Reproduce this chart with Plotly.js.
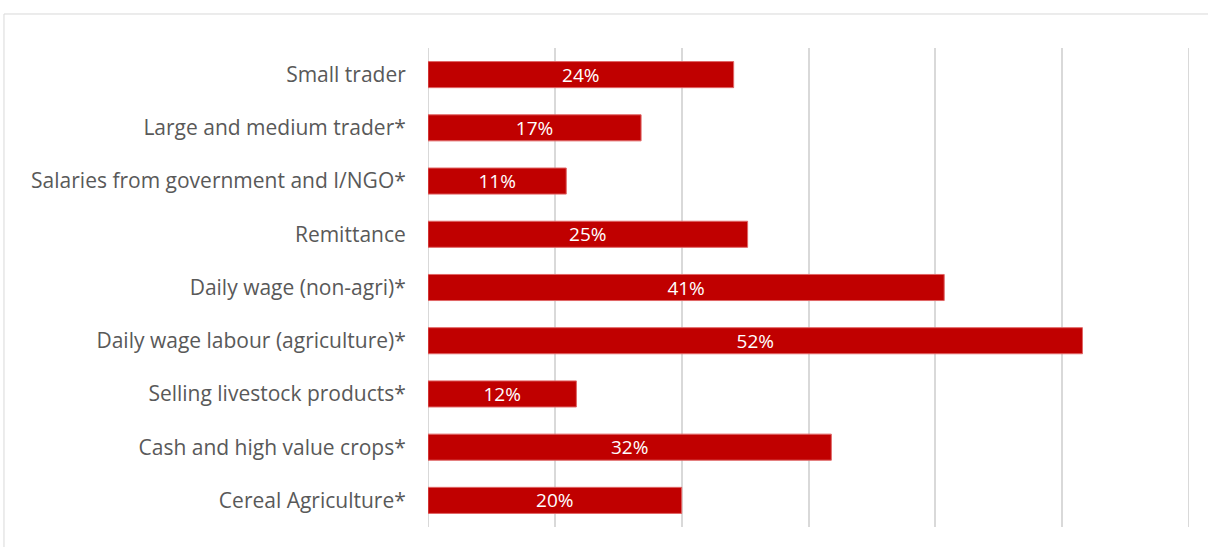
<!DOCTYPE html>
<html>
<head>
<meta charset="utf-8">
<script src="https://cdn.plot.ly/plotly-3.0.1.min.js"></script>
<style>
  html, body { margin: 0; padding: 0; background: #ffffff; }
  #chart { width: 1208px; height: 547px; }
</style>
</head>
<body>
<div id="chart"></div>
<script>
// Categories listed bottom-to-top (Plotly draws first category at bottom)
const categories = [
  "Cereal Agriculture*",
  "Cash and high value crops*",
  "Selling livestock products*",
  "Daily wage labour (agriculture)*",
  "Daily wage (non-agri)*",
  "Remittance",
  "Salaries from government and I/NGO*",
  "Large and medium trader*",
  "Small trader"
];
const values = [20.0, 31.8, 11.7, 51.6, 40.7, 25.2, 10.9, 16.8, 24.1];
const xTicks = [0, 10, 20, 30, 40, 50, 60];

const FONT = "'Open Sans', sans-serif";

const trace = {
  type: "bar",
  orientation: "h",
  y: categories,
  x: values,
  marker: { color: "#c00000", line: { color: "#e06666", width: 1 } },
  text: values.map(v => Math.round(v) + "%"),
  textposition: "inside",
  insidetextanchor: "middle",
  constraintext: "none",
  textfont: { family: FONT, size: 19, color: "#ffffff" },
  hoverinfo: "skip",
  cliponaxis: false
};

const gridLine = v => ({
  type: "line", xref: "x", yref: "paper",
  x0: v, x1: v, y0: 0, y1: 1,
  line: { color: "#d9d9d9", width: 2 }, layer: "below"
});

const layout = {
  width: 1208,
  height: 547,
  margin: { l: 428, r: 19, t: 48, b: 20, pad: 0 },
  paper_bgcolor: "#ffffff",
  plot_bgcolor: "#ffffff",
  showlegend: false,
  bargap: 0.51,
  xaxis: {
    range: [xTicks[0], xTicks[xTicks.length - 1]],
    tickvals: xTicks,
    showticklabels: false,
    showgrid: true,
    gridcolor: "#d9d9d9",
    gridwidth: 2,
    zeroline: false,
    showline: false,
    fixedrange: true
  },
  yaxis: {
    type: "category",
    categoryorder: "array",
    categoryarray: categories,
    showgrid: false,
    zeroline: false,
    showline: false,
    ticks: "outside",
    ticklen: 17,
    tickcolor: "rgba(0,0,0,0)",
    tickfont: { family: FONT, size: 21, color: "#595959" },
    fixedrange: true
  },
  shapes: [
    gridLine(xTicks[0]),
    gridLine(xTicks[xTicks.length - 1]),
    {
      type: "rect", xref: "paper", yref: "paper",
      x0: -0.5572, x1: 1.1, y0: -0.2, y1: 1.071,
      line: { color: "#d9d9d9", width: 1 }, fillcolor: "rgba(0,0,0,0)"
    }
  ]
};

Plotly.newPlot("chart", [trace], layout, { displayModeBar: false, staticPlot: true });
</script>
</body>
</html>
